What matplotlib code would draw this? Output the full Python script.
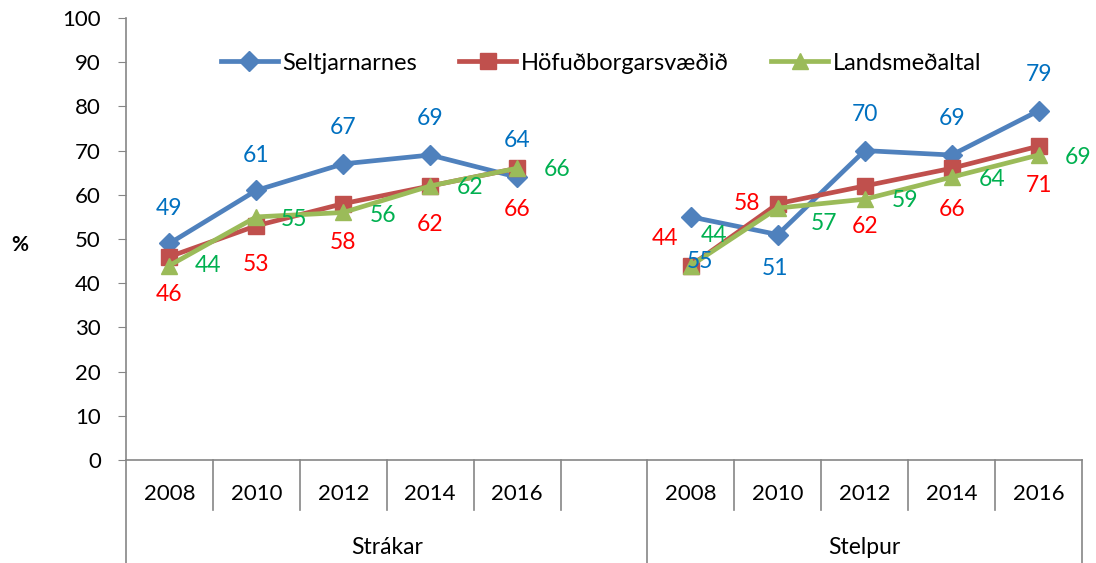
import matplotlib
matplotlib.use("Agg")
import matplotlib.pyplot as plt
import numpy as np
from matplotlib.lines import Line2D

plt.rcParams['font.family'] = ['Lato', 'DejaVu Sans']

years = ['2008', '2010', '2012', '2014', '2016', '', '2008', '2010', '2012', '2014', '2016']
groups = ['Strákar', 'Stelpur']
series_names = ['Seltjarnarnes', 'Höfuðborgarsvæðið', 'Landsmeðaltal']

# None = empty slot between the two groups
seltjarnarnes = [49, 61, 67, 69, 64, None, 55, 51, 70, 69, 79]
hofudborg = [46, 53, 58, 62, 66, None, 44, 58, 62, 66, 71]
landsmedaltal = [44, 55, 56, 62, 66, None, 44, 57, 59, 64, 69]

line_colors = ['#4F81BD', '#C0504D', '#9BBB59']
label_colors = ['#0070C0', '#FF0000', '#00B050']
markers = ['D', 's', '^']
msizes = [10, 11, 12]

# label offsets in pixels (dx, dy), per series, per point
offsets = [
    [(0, 35), (0, 35), (0, 36), (0, 37), (0, 37), None, (9, -45), (-3, -34), (0, 36), (0, 37), (0, 36)],
    [(0, -38), (0, -39), (0, -39), (0, -39), (0, -41), None, (-26, 27), (-31, 0), (0, -41), (0, -41), (0, -39)],
    [(39, 0), (38, -3), (40, -3), (40, -2), (40, -1), None, (23, 30), (46, -15), (40, -1), (40, -2), (40, -2)],
]

fig = plt.figure(figsize=(10.96, 5.63), dpi=100)
ax = fig.add_axes([126 / 1096, 1 - 460 / 563, 956 / 1096, 442 / 563])

x = np.arange(len(years))
all_series = [seltjarnarnes, hofudborg, landsmedaltal]
for vals, name, lc, mk, ms in zip(all_series, series_names, line_colors, markers, msizes):
    y = np.array([np.nan if v is None else v for v in vals], dtype=float)
    ax.plot(x, y, color=lc, lw=3.4, marker=mk, ms=ms, label=name, zorder=3)

for vals, tc, offs in zip(all_series, label_colors, offsets):
    for xi, v, off in zip(x, vals, offs):
        if v is None:
            continue
        ax.annotate(str(v), (xi, v), xytext=off, textcoords='offset pixels',
                    ha='center', va='center', color=tc, fontsize=16.5, zorder=4)

ax.set_xlim(-0.5, len(years) - 0.5)
ax.set_ylim(0, 100)
ax.set_yticks(range(0, 101, 10))
ax.tick_params(axis='y', labelsize=16, length=6, color='#868686', pad=12)
ax.set_xticks([])
for s in ['top', 'right']:
    ax.spines[s].set_visible(False)
for s in ['left', 'bottom']:
    ax.spines[s].set_color('#868686')
    ax.spines[s].set_linewidth(1.2)

# two-level category axis: separators and labels
ax_bottom = 1 - 460 / 563
short_end = 1 - 510 / 563
tr = ax.get_xaxis_transform()
for b in np.arange(-0.5, len(years), 1.0):
    is_long = b in (-0.5, 5.5, 10.5)
    y_end = 0.0 if is_long else short_end
    xf = fig.transFigure.inverted().transform(ax.transData.transform((b, 0)))[0]
    fig.add_artist(Line2D([xf, xf], [ax_bottom, y_end], color='#868686', lw=1.2))

for xi, yr in zip(x, years):
    ax.text(xi, -34 / 442, yr, transform=tr, ha='center', va='center', fontsize=16)
ax.text(2.5, -87 / 442, groups[0], transform=tr, ha='center', va='center', fontsize=16.5)
ax.text(8.0, -87 / 442, groups[1], transform=tr, ha='center', va='center', fontsize=16.5)

fig.text(20 / 1096, 1 - 245 / 563, '%', fontsize=15, fontweight='bold', ha='center', va='center')

ax.legend(loc='center', bbox_to_anchor=((601 - 126) / 956, (460 - 63) / 442), ncol=3,
          frameon=False, fontsize=17, handlelength=2.4, handletextpad=0.2, columnspacing=1.8,
          borderpad=0)

fig.savefig('out.png', dpi=100)
